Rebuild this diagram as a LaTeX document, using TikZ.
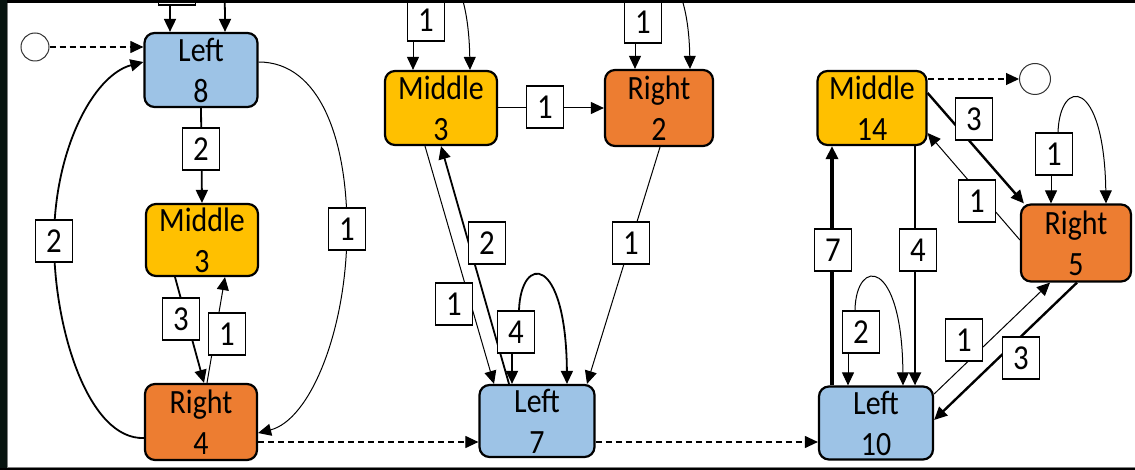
\documentclass[tikz,border=0pt]{standalone}
\usepackage{fontspec}
\setmainfont{Carlito}[FakeStretch=0.88]
\usetikzlibrary{arrows.meta,calc}
\pgfdeclarelayer{front}
\pgfsetlayers{main,front}
\definecolor{sblue}{HTML}{9DC3E6}
\definecolor{syellow}{HTML}{FFC000}
\definecolor{sorange}{HTML}{ED7D31}
\definecolor{band}{RGB}{8,20,16}
\begin{document}
\begin{tikzpicture}[x=1pt,y=-1pt,
  stbox/.style={draw=black, line width=2.2pt, rounded corners=10pt, minimum width=112pt,
    minimum height=74pt, inner sep=0pt, align=center, font=\fontsize{34}{41}\selectfont},
  wlbl/.style={draw=black, fill=white, line width=1.8pt, minimum width=37pt,
    minimum height=42pt, inner sep=0pt, font=\fontsize{35}{40}\selectfont},
  arr/.style={-{Triangle[length=13pt,width=12pt]}},
  w1/.style={arr, line width=1pt},
  w2/.style={arr, line width=1.8pt},
  w3/.style={arr, line width=2.4pt},
  w7/.style={arr, line width=4.2pt},
  flow/.style={arr, dash pattern=on 6pt off 4pt, line width=1.1pt},
  ext/.style={draw=black!80, line width=1pt, circle, minimum size=28pt, inner sep=0pt}
]
\useasboundingbox (0,0) rectangle (1135,470);
\clip (0,0) rectangle (1135,470);

% states
\node[stbox, fill=sblue, minimum width=113pt] (L8) at (201,70) {Left\\8};
\node[stbox, fill=syellow, minimum height=72pt] (M3a) at (202,240) {Middle\\3};
\node[stbox, fill=sorange, minimum height=76pt] (R4) at (201,422) {Right\\4};
\node[stbox, fill=syellow] (M3b) at (441,108) {Middle\\3};
\node[stbox, fill=sorange, minimum width=108pt, minimum height=76pt] (R2) at (659,108) {Right\\2};
\node[stbox, fill=sblue, minimum width=115pt, minimum height=72pt] (L7) at (537,421) {Left\\7};
\node[stbox, fill=syellow, minimum width=109pt] (M14) at (872,108) {Middle\\14};
\node[stbox, fill=sorange, minimum width=110pt, minimum height=77pt] (R5) at (1076,243) {Right\\5};
\node[stbox, fill=sblue, minimum width=114pt, minimum height=73pt] (L10) at (876,423) {Left\\10};

% start / end markers
\node[ext] (c1) at (35,47) {};
\node[ext, minimum size=31pt] (c2) at (1035,79) {};

% weight labels
\begin{pgfonlayer}{front}
\node[wlbl] (a0) at (177,-16) {};
\node[wlbl] (a1) at (201,149) {2};
\node[wlbl] (a2) at (181,319) {3};
\node[wlbl] (a3) at (227,334) {1};
\node[wlbl] (a4) at (54,241) {2};
\node[wlbl] (a5) at (347,229) {1};
\node[wlbl] (b0) at (426,20) {1};
\node[wlbl] (b1) at (643,22) {1};
\node[wlbl] (b2) at (545,107) {1};
\node[wlbl] (b3) at (454,304) {1};
\node[wlbl] (b4) at (487,243) {2};
\node[wlbl] (b5) at (516,332) {4};
\node[wlbl] (b6) at (631,243) {1};
\node[wlbl] (d1) at (833,250) {7};
\node[wlbl] (d2) at (918,250) {4};
\node[wlbl] (d3) at (974,119) {3};
\node[wlbl] (d4) at (977,201) {1};
\node[wlbl] (d5) at (964,340) {1};
\node[wlbl] (d6) at (1021,358) {3};
\node[wlbl] (d7) at (1054,154) {1};
\node[wlbl] (d8) at (861,332) {2};
\end{pgfonlayer}

% left group
\draw[w2] ([xshift=-7]a0.south) -- ([xshift=-31]L8.north);
\draw[w2] (a0.north) .. controls +(0,-60) and +(0,-140) .. ([xshift=24]L8.north);
\draw[w2] (L8.south) -- (M3a.north);
\draw[w2] ([xshift=-27]M3a.south) -- ([xshift=3]R4.north);
\draw[w1] ([xshift=6]R4.north) -- ([xshift=23]M3a.south);
\draw[w2] ([yshift=-16]R4.west) .. controls +(-55,2) and +(0,89) .. (a4.center)
  .. controls +(0,-91) and +(-50,13) .. ([yshift=8]L8.west);
\draw[w1] ([yshift=8]L8.east) .. controls +(62,0) and +(0,-88) .. (a5.center)
  .. controls +(0,101) and +(52,-13) .. ([yshift=-11]R4.east);
\draw[flow] (c1.east) -- (c1.east -| L8.west);
\draw[flow] ([yshift=-20]R4.east) -- ([yshift=-20]R4.east -| L7.west);

% middle group
\draw[w1] ([xshift=-13]b0.south) -- ([xshift=-28]M3b.north);
\draw[w1] (b0.north) .. controls +(2,-49) and +(-2,-112) .. ([xshift=29]M3b.north);
\draw[w1] ([xshift=-8]b1.south) -- ([xshift=-24]R2.north);
\draw[w1] (b1.north) .. controls +(2,-49) and +(-2,-110) .. ([xshift=31]R2.north);
\draw[w1] (M3b) -- (R2);
\draw[w1] ([xshift=-16]M3b.south) -- ([xshift=-43]L7.north);
\draw[w2] ([xshift=-28]L7.north) -- (M3b.south);
\draw[w2] ([xshift=-4]b5.south) -- ([xshift=-25]L7.north);
\draw[w2] ([xshift=3]b5.north) .. controls +(2,-56) and +(-1,-130) .. ([xshift=30]L7.north);
\draw[w1] ([xshift=1]R2.south) -- ([xshift=50]L7.north);
\draw[flow] ([yshift=-21]L7.east) -- ([yshift=-21]L7.east -| L10.west);

% right group
\draw[flow] (M14.east |- c2.west) -- (c2.west);
\draw[w7] ([xshift=-44]L10.north) -- ([xshift=-44]L10.north |- M14.south);
\draw[w3] ([xshift=43]M14.south) -- ([xshift=43]M14.south |- L10.north);
\draw[w3] ([yshift=15]M14.east) -- ([xshift=4]R5.north west);
\draw[w1] ([yshift=3]R5.west) -- ([yshift=-25]M14.east);
\draw[w1] ([yshift=29]L10.east) -- ([xshift=-26]R5.south);
\draw[w3] ([xshift=1]R5.south) -- ([yshift=3]L10.east);
\draw[w1] ([xshift=-3]d7.south) -- ([xshift=-25]R5.north);
\draw[w1] ([xshift=4]d7.north) .. controls +(2,-55) and +(-2,-126) .. ([xshift=30]R5.north);
\draw[w1] ([xshift=-13]d8.south) -- ([xshift=-28]L10.north);
\draw[w1] ([xshift=-6]d8.north) .. controls +(1,-53) and +(-1,-128) .. ([xshift=27]L10.north);

% outer frame
\begin{pgfonlayer}{front}
\fill[black] (0,0) rectangle (1135,3.5);
\fill[band] (0,0) rectangle (7,470);
\draw[gray, line width=0.8pt] (7.6,3.5) -- (7.6,467);
\draw[gray, line width=0.6pt] (7,467.4) -- (1135,467.4);
\fill[black] (0,468) rectangle (1135,470);
\end{pgfonlayer}
\end{tikzpicture}
\end{document}
